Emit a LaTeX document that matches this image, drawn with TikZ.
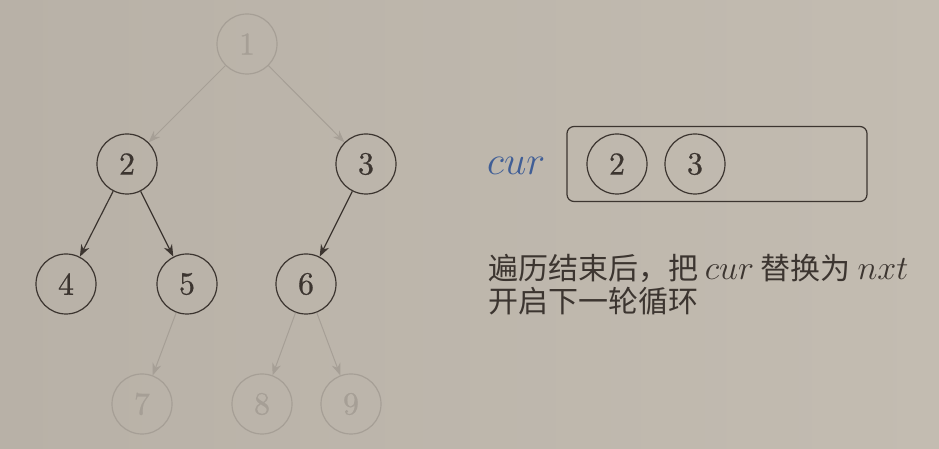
\RequirePackage{fix-cm}
\documentclass[tikz,border=0pt]{standalone}
\usepackage{fontspec}
\setmainfont{lmroman10-regular.otf}
\newfontfamily\numfont{lmroman10-regular.otf}[FakeBold=0.6]
\newfontfamily\cjk{Noto Sans CJK SC}
\usetikzlibrary{arrows.meta}
\definecolor{bgleft}{RGB}{184,177,167}
\definecolor{bgright}{RGB}{195,188,177}
\definecolor{ink}{RGB}{60,53,48}
\definecolor{faded}{RGB}{166,159,150}
\definecolor{curblue}{RGB}{64,94,150}
\newcommand{\mvar}[1]{{\fontsize{34}{40}\selectfont$#1$}}
\tikzset{
  treenode/.style={draw=ink, text=ink, circle, minimum size=60pt, inner sep=0pt, line width=1.2pt, font=\numfont\fontsize{32}{36}\selectfont},
  fadenode/.style={treenode, draw=faded, text=faded},
  treeedge/.style={-{Stealth[length=12pt,width=9pt]}, draw=ink, line width=1.2pt},
  fadeedge/.style={treeedge, draw=faded, line width=1pt}
}

\begin{document}
\begin{tikzpicture}[x=1pt,y=1pt]
  \shade[left color=bgleft, right color=bgright] (0,0) rectangle (939,449);
  \useasboundingbox (0,0) rectangle (939,449);
  % tree
  \node[fadenode] (n1) at (247,405) {1};
  \node[treenode] (n2) at (127,285) {2};
  \node[treenode] (n3) at (366,285) {3};
  \node[treenode] (n4) at (66,165) {4};
  \node[treenode] (n5) at (187,165) {5};
  \node[treenode] (n6) at (306,165) {6};
  \node[fadenode] (n7) at (142,45) {7};
  \node[fadenode] (n8) at (262,45) {8};
  \node[fadenode] (n9) at (351,45) {9};
  \draw[fadeedge] (n1) -- (n2);
  \draw[fadeedge] (n1) -- (n3);
  \draw[treeedge] (n2) -- (n4);
  \draw[treeedge] (n2) -- (n5);
  \draw[treeedge] (n3) -- (n6);
  \draw[fadeedge] (n5) -- (n7);
  \draw[fadeedge] (n6) -- (n8);
  \draw[fadeedge] (n6) -- (n9);
  % queue
  \node[text=curblue, anchor=base west, inner sep=0pt, font=\fontsize{40}{48}\selectfont] (cur) at (487,274) {$cur$};
  \node[draw=ink, rounded corners=7pt, line width=1.2pt, minimum width=300pt, minimum height=75pt] (queue) at (717,285) {};
  \node[treenode] (q2) at (617,285) {2};
  \node[treenode] (q3) at (695,285) {3};
  % note
  \node[text=ink, anchor=base west, inner sep=0pt, font=\cjk\fontsize{30}{33}\selectfont] (line1) at (488,169) {遍历结束后，把 \mvar{cur} 替换为 \mvar{nxt}};
  \node[text=ink, anchor=base west, inner sep=0pt, font=\cjk\fontsize{30}{33}\selectfont] (line2) at (488,136) {开启下一轮循环};
\end{tikzpicture}
\end{document}
